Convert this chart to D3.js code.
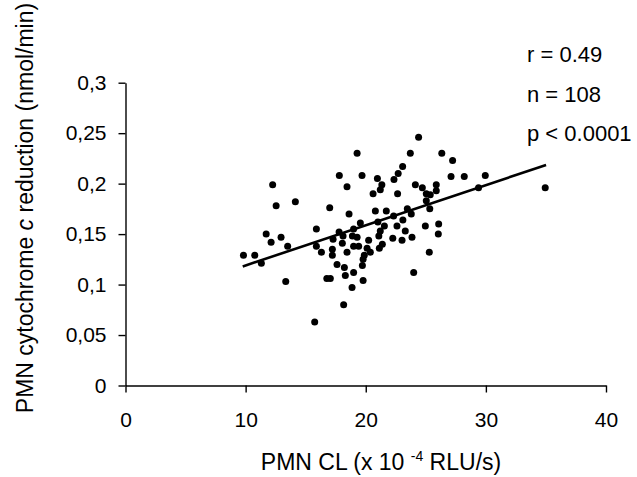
<!DOCTYPE html>
<html>
<head>
<meta charset="utf-8">
<script src="https://cdn.jsdelivr.net/npm/d3@7"></script>
<style>
  html, body { margin: 0; padding: 0; background: #fff; }
  svg { display: block; font-family: "Liberation Sans", Arial, sans-serif; }
</style>
</head>
<body>
<svg id="chart" width="637" height="477"></svg>
<script>
// PMN CL (x 10^-4 RLU/s)
const pmnCL = [9.82,10.76,11.31,11.71,12.12,12.25,12.54,12.95,13.50,13.34,14.14,15.89,15.89,15.75,16.31,16.76,17.05,17.00,17.22,17.22,17.28,17.61,17.78,17.80,18.11,18.05,18.16,18.22,18.30,18.44,18.44,18.61,18.86,18.89,18.99,18.99,18.99,19.28,19.28,19.41,19.55,19.69,19.72,19.78,19.88,19.78,20.11,20.24,20.38,20.61,20.80,20.97,21.01,21.21,21.55,21.09,21.13,21.38,21.34,21.21,21.71,22.25,22.32,22.35,22.70,22.65,22.60,23.09,23.02,23.07,23.29,23.46,23.79,23.71,23.85,23.99,24.13,24.40,24.71,25.04,25.04,24.96,25.29,25.33,25.37,25.87,25.87,26.07,26.04,26.33,27.23,27.10,28.20,29.39,29.95,34.94];
// PMN cytochrome c reduction (nmol/min)
const cytoC = [0.129,0.129,0.121,0.150,0.142,0.199,0.178,0.147,0.138,0.103,0.182,0.155,0.138,0.063,0.132,0.106,0.106,0.176,0.135,0.129,0.145,0.120,0.152,0.208,0.148,0.141,0.080,0.117,0.109,0.197,0.132,0.170,0.097,0.148,0.155,0.138,0.112,0.230,0.147,0.138,0.161,0.208,0.119,0.125,0.129,0.104,0.136,0.144,0.132,0.190,0.173,0.205,0.162,0.153,0.158,0.148,0.136,0.140,0.199,0.194,0.173,0.146,0.168,0.204,0.210,0.190,0.158,0.164,0.144,0.217,0.153,0.175,0.170,0.230,0.147,0.112,0.199,0.246,0.196,0.190,0.183,0.158,0.132,0.175,0.189,0.199,0.193,0.160,0.150,0.230,0.223,0.207,0.207,0.196,0.208,0.196];
// regression line end points
const fitX = [9.76, 35.01];
const fitY = [0.118, 0.2185];
// ticks
const xTicks = [0, 10, 20, 30, 40];
const yTicks = [0, 0.05, 0.1, 0.15, 0.2, 0.25, 0.3];
const statLines = ["r = 0.49", "n = 108", "p < 0.0001"];

const svg = d3.select("#chart");
const FS = 21;
const TFS = 23;
const SFS = 22;

const x = d3.scaleLinear().domain([0, 40]).range([125.5, 606]);
const y = d3.scaleLinear().domain([0, 0.3]).range([385.5, 82.7]);

const fmtY = d => d === 0 ? "0" : String(d).replace(".", ",");

const gx = svg.append("g").attr("transform", `translate(0,${y(0)})`)
  .call(d3.axisBottom(x).tickValues(xTicks).tickSize(7).tickPadding(20).tickSizeOuter(0).tickFormat(d3.format("d")));
const gy = svg.append("g").attr("transform", `translate(${x(0)},0)`)
  .call(d3.axisLeft(y).tickValues(yTicks).tickSize(7).tickPadding(12).tickSizeOuter(0).tickFormat(fmtY));

[gx, gy].forEach(g => {
  g.select(".domain").attr("stroke", "#000").attr("stroke-width", 1.4);
  g.selectAll(".tick line").attr("stroke", "#000").attr("stroke-width", 1.4);
  g.selectAll(".tick text").attr("fill", "#000").style("font-size", FS + "px")
    .style("font-family", "'Liberation Sans', Arial, sans-serif");
});

// points
svg.append("g").selectAll("circle")
  .data(pmnCL.map((v, i) => [v, cytoC[i]]))
  .join("circle")
  .attr("cx", d => x(d[0]))
  .attr("cy", d => y(d[1]))
  .attr("r", 3.5)
  .attr("fill", "#000");

// regression line
svg.append("line")
  .attr("x1", x(fitX[0])).attr("y1", y(fitY[0]))
  .attr("x2", x(fitX[1])).attr("y2", y(fitY[1]))
  .attr("stroke", "#000").attr("stroke-width", 2.6);

// x title
const xt = svg.append("text")
  .attr("x", 381).attr("y", 470)
  .attr("text-anchor", "middle")
  .style("font-size", TFS + "px").attr("fill", "#000");
xt.append("tspan").text("PMN CL (x 10 ");
xt.append("tspan").attr("dy", -9).style("font-size", "14px").text("-4");
xt.append("tspan").attr("dy", 9).text(" RLU/s)");

// y title
const yt = svg.append("text")
  .attr("transform", "translate(33,208) rotate(-90)")
  .attr("text-anchor", "middle")
  .style("font-size", TFS + "px").attr("fill", "#000");
yt.append("tspan").text("PMN cytochrome ");
yt.append("tspan").style("font-style", "italic").text("c");
yt.append("tspan").text(" reduction (nmol/min)");

// stats
svg.append("g").selectAll("text")
  .data(statLines)
  .join("text")
  .attr("x", 527)
  .attr("y", (d, i) => 62 + i * 39.5)
  .style("font-size", SFS + "px").attr("fill", "#000")
  .text(d => d);
</script>
</body>
</html>
